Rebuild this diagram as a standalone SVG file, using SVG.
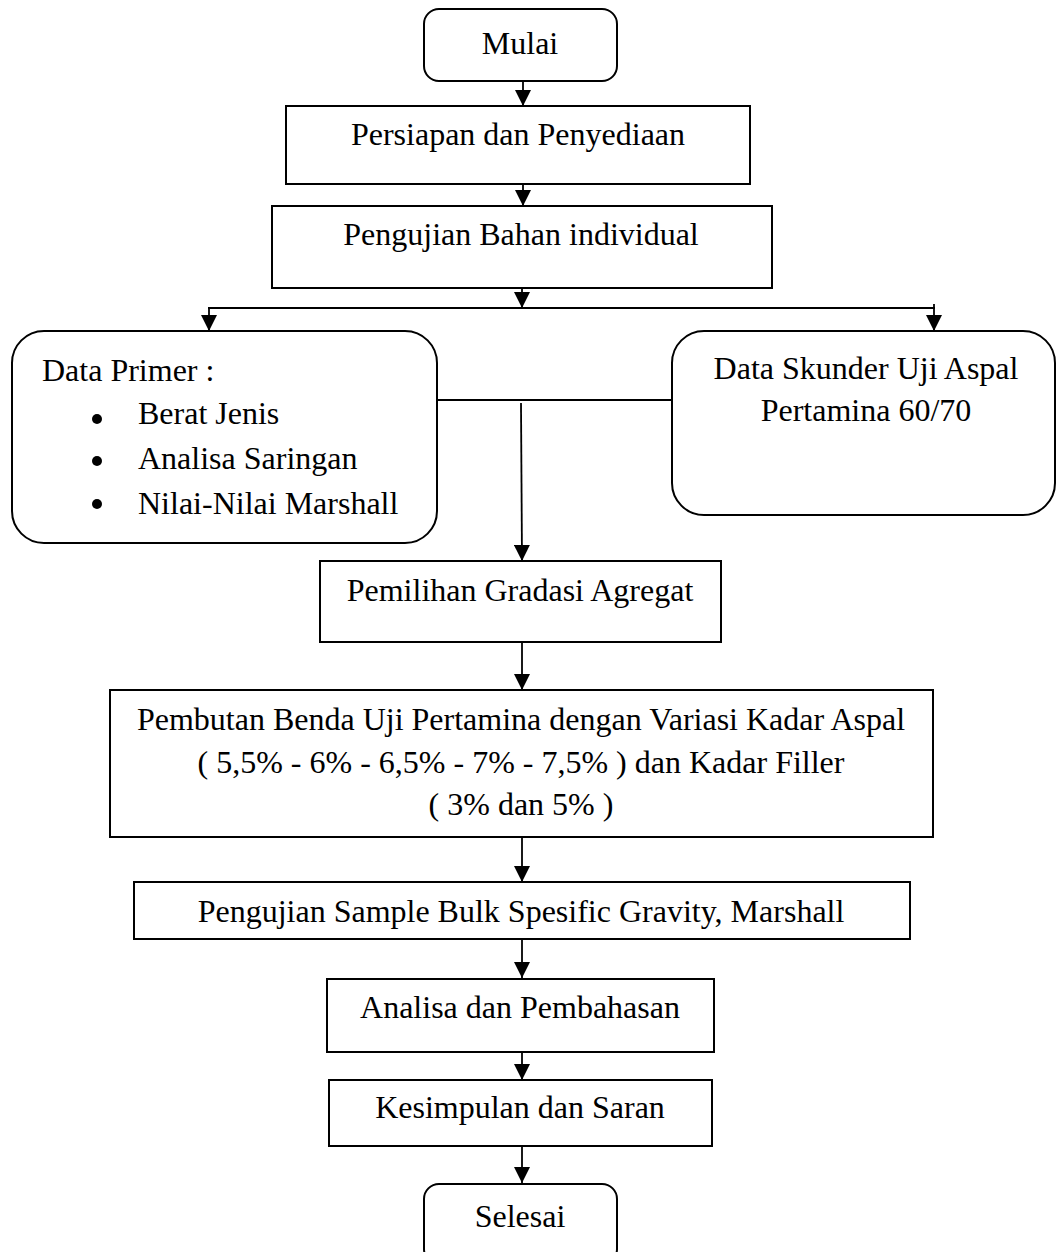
<svg xmlns="http://www.w3.org/2000/svg" width="1056" height="1252" viewBox="0 0 1056 1252">
<defs>
<marker id="ah" viewBox="0 0 16 16" refX="16" refY="8" markerWidth="16" markerHeight="16" markerUnits="userSpaceOnUse" orient="auto">
<path d="M0,0 L16,8 L0,16 Z" fill="#000"/>
</marker>
</defs>
<style>
.box{fill:#fff;stroke:#000;stroke-width:2}
.t{font-family:"Liberation Serif","Times New Roman",serif;font-size:32px;fill:#000}
.c{text-anchor:middle}
.ln{stroke:#000;stroke-width:1.8;fill:none}
.ar{stroke:#000;stroke-width:1.8;fill:none;marker-end:url(#ah)}
</style>
<rect width="1056" height="1252" fill="#fff"/>
<g id="connectors">
<line class="ar" x1="523" y1="81" x2="523" y2="106"/>
<line class="ar" x1="523" y1="184" x2="523" y2="206"/>
<line class="ar" x1="522" y1="273" x2="522" y2="308"/>
<line class="ln" x1="208" y1="308" x2="935" y2="308"/>
<line class="ar" x1="209" y1="308" x2="209" y2="331"/>
<line class="ar" x1="934" y1="304" x2="934" y2="331"/>
<line class="ln" x1="436" y1="400" x2="672" y2="400"/>
<line class="ar" x1="521" y1="403" x2="522" y2="561"/>
<line class="ar" x1="522" y1="642" x2="522" y2="690"/>
<line class="ar" x1="522" y1="837" x2="522" y2="882"/>
<line class="ar" x1="522" y1="939" x2="522" y2="978"/>
<line class="ar" x1="522" y1="1052" x2="522" y2="1080"/>
<line class="ar" x1="522" y1="1146" x2="522" y2="1183"/>
</g>
<g id="mulai">
<rect class="box" x="424" y="9" width="193" height="72" rx="15"/>
<text class="t c" x="520" y="54">Mulai</text>
</g>
<g id="persiapan">
<rect class="box" x="286" y="106" width="464" height="78"/>
<text class="t c" x="518" y="145">Persiapan dan Penyediaan</text>
</g>
<g id="pengujian-bahan">
<rect class="box" x="272" y="206" width="500" height="82"/>
<text class="t c" x="521" y="245">Pengujian Bahan individual</text>
</g>
<g id="data-primer">
<rect class="box" x="12" y="331" width="425" height="212" rx="32"/>
<text class="t" x="42" y="381">Data Primer :</text>
<circle cx="97" cy="419" r="5"/>
<circle cx="97" cy="461" r="5"/>
<circle cx="97" cy="504" r="5"/>
<text class="t" x="138" y="424">Berat Jenis</text>
<text class="t" x="138" y="469">Analisa Saringan</text>
<text class="t" x="138" y="514">Nilai-Nilai Marshall</text>
</g>
<g id="data-skunder">
<rect class="box" x="672" y="331" width="383" height="184" rx="32"/>
<text class="t c" x="866" y="379">Data Skunder Uji Aspal</text>
<text class="t c" x="866" y="421">Pertamina 60/70</text>
</g>
<g id="pemilihan">
<rect class="box" x="320" y="561" width="401" height="81"/>
<text class="t c" x="520" y="601">Pemilihan Gradasi Agregat</text>
</g>
<g id="pembutan">
<rect class="box" x="110" y="690" width="823" height="147"/>
<text class="t c" x="521" y="730">Pembutan Benda Uji Pertamina dengan Variasi Kadar Aspal</text>
<text class="t c" x="521" y="773">( 5,5% - 6% - 6,5% - 7% - 7,5% ) dan Kadar Filler</text>
<text class="t c" x="521" y="815">( 3% dan 5% )</text>
</g>
<g id="pengujian-sample">
<rect class="box" x="134" y="882" width="776" height="57"/>
<text class="t c" x="521" y="922">Pengujian Sample Bulk Spesific Gravity, Marshall</text>
</g>
<g id="analisa">
<rect class="box" x="327" y="979" width="387" height="73"/>
<text class="t c" x="520" y="1018">Analisa dan Pembahasan</text>
</g>
<g id="kesimpulan">
<rect class="box" x="329" y="1080" width="383" height="66"/>
<text class="t c" x="520" y="1118">Kesimpulan dan Saran</text>
</g>
<g id="selesai">
<rect class="box" x="424" y="1184" width="193" height="80" rx="15"/>
<text class="t c" x="520" y="1227">Selesai</text>
</g>
</svg>
